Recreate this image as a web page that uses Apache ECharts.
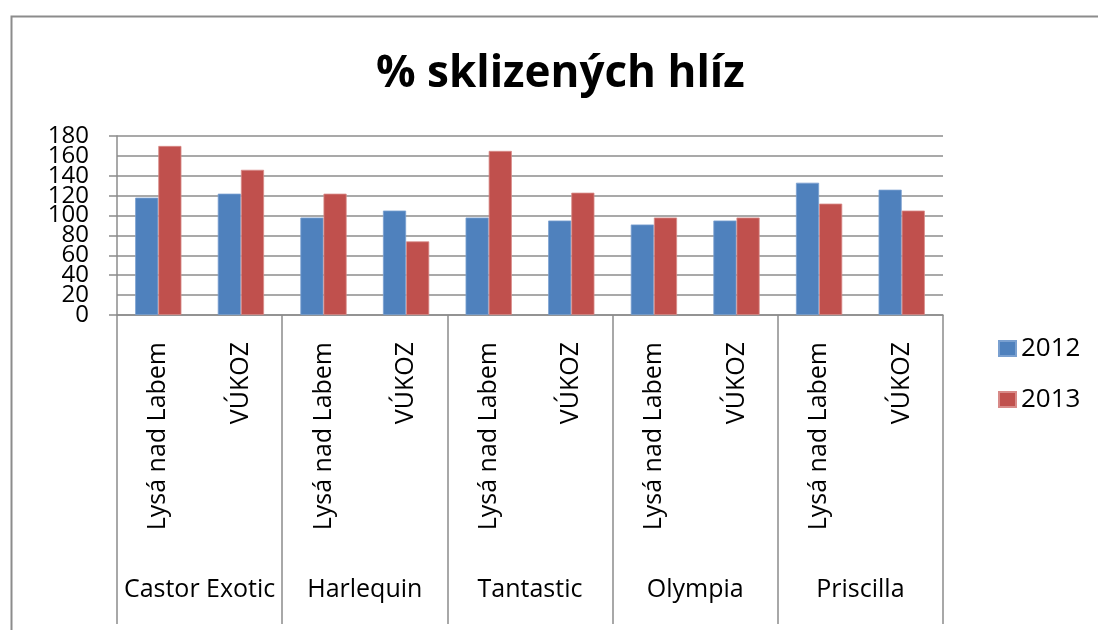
<!DOCTYPE html>
<html>
<head>
<meta charset="utf-8">
<script src="https://cdn.jsdelivr.net/npm/echarts@6/dist/echarts.min.js"></script>
<style>html,body{margin:0;padding:0;background:#fff}#c{width:1098px;height:630px}</style>
</head>
<body>
<div id="c"></div>
<script>
var titleText = '% sklizených hlíz';
var groups = ['Castor Exotic', 'Harlequin', 'Tantastic', 'Olympia', 'Priscilla'];
var sites = ['Lysá nad Labem', 'VÚKOZ', 'Lysá nad Labem', 'VÚKOZ', 'Lysá nad Labem', 'VÚKOZ', 'Lysá nad Labem', 'VÚKOZ', 'Lysá nad Labem', 'VÚKOZ'];
var seriesNames = ['2012', '2013'];
var values2012 = [118, 122, 98, 105, 98, 95, 91, 95, 133, 126];
var values2013 = [170, 146, 122, 74, 165, 123, 98, 98, 112, 105];
var yTicks = {min: 0, max: 180, interval: 20};

var FONT = 'Open Sans';
var yLabelStyle = {margin: 28, fontFamily: FONT, fontSize: 24, color: '#000', lineHeight: 20};
var chart = echarts.init(document.getElementById('c'), null, {renderer: 'canvas'});
chart.setOption({
  animation: false,
  backgroundColor: '#fff',
  graphic: [{
    type: 'rect', left: 9, top: 14,
    shape: {width: 1200, height: 700},
    style: {fill: 'none', stroke: '#8c8c8c', lineWidth: 2}, z: -1
  }],
  title: {
    text: titleText, left: 371, top: 47,
    textStyle: {fontFamily: FONT, fontWeight: 'bold', fontSize: 44, color: '#000'}
  },
  legend: {
    orient: 'vertical', left: 993, top: 330,
    icon: 'rect',
    itemWidth: 17, itemHeight: 15, itemGap: 24,
    textStyle: {fontFamily: FONT, fontSize: 26, color: '#000', lineHeight: 27},
    data: seriesNames
  },
  grid: {left: 117, right: 155, top: 136, bottom: 315, containLabel: false},
  xAxis: [{
    type: 'category', data: sites, position: 'bottom', offset: 0,
    axisLine: {show: true, lineStyle: {color: '#8c8c8c', width: 1.5}},
    axisTick: {show: false},
    axisLabel: {rotate: 90, interval: 0, margin: 27, fontFamily: FONT, fontSize: 25, color: '#000'}
  }, {
    type: 'category', data: groups, position: 'bottom', offset: 0,
    axisLine: {show: false},
    axisTick: {show: true, interval: 0, length: 309, inside: false, lineStyle: {color: '#8c8c8c', width: 1.5}},
    axisLabel: {interval: 0, margin: 262, fontFamily: FONT, fontSize: 25, color: '#000'}
  }],
  yAxis: [{
    type: 'value', min: yTicks.min, max: yTicks.max, interval: yTicks.interval, position: 'left', offset: 0,
    axisLine: {show: true, lineStyle: {color: '#8c8c8c', width: 1.5}},
    axisTick: {show: true, length: 8, lineStyle: {color: '#8c8c8c', width: 1.5}},
    splitLine: {show: true, lineStyle: {color: '#8c8c8c', width: 1.5}},
    axisLabel: Object.assign({showMinLabel: true, showMaxLabel: true}, yLabelStyle)
  }, {
    type: 'value', min: yTicks.min, max: yTicks.max, interval: yTicks.interval, position: 'left', offset: 0,
    axisLine: {show: false}, axisTick: {show: false}, splitLine: {show: false},
    axisLabel: Object.assign({showMinLabel: false, showMaxLabel: false,
      formatter: function (v) { return (v === yTicks.min + yTicks.interval || v === yTicks.max - yTicks.interval) ? String(v) : ''; }
    }, yLabelStyle)
  }],
  series: [{
    name: seriesNames[0], type: 'bar', xAxisIndex: 0, yAxisIndex: 0, data: values2012,
    barGap: '0%', barCategoryGap: '44%',
    itemStyle: {color: '#4F81BD', borderColor: '#7aa0d0', borderWidth: 0.8}
  }, {
    name: seriesNames[1], type: 'bar', xAxisIndex: 0, yAxisIndex: 0, data: values2013,
    barGap: '0%', barCategoryGap: '44%',
    itemStyle: {color: '#C0504D', borderColor: '#d88a88', borderWidth: 0.8}
  }]
});
</script>
</body>
</html>
